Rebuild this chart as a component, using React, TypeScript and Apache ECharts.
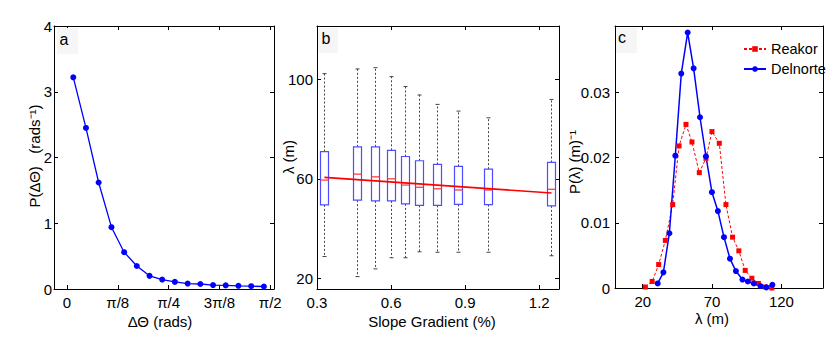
import React, { useEffect, useRef } from "react";
import * as echarts from "echarts";

// ---------- Panel a ----------
const aDeltaTheta = [0.049, 0.147, 0.245, 0.344, 0.442, 0.54, 0.638, 0.736, 0.834, 0.933, 1.031, 1.129, 1.227, 1.325, 1.424, 1.522];
const aProb = [3.22, 2.45, 1.62, 0.94, 0.56, 0.35, 0.2, 0.144, 0.108, 0.083, 0.076, 0.06, 0.055, 0.048, 0.043, 0.038];
const aXTickValues = [0, Math.PI / 8, Math.PI / 4, (3 * Math.PI) / 8, Math.PI / 2];
const aXTickLabels = ["0", "π/8", "π/4", "3π/8", "π/2"];
const aYTicks = [0, 1, 2, 3, 4];

// ---------- Panel b ----------
const bSlope = [0.328, 0.463, 0.534, 0.599, 0.658, 0.715, 0.786, 0.872, 0.992, 1.249];
const bLow = [28.7, 20.6, 23.7, 28.2, 28.2, 30.6, 30.4, 30.4, 30.4, 29.0];
const bQ1 = [49.5, 51.4, 51.1, 51.1, 49.9, 49.3, 49.3, 49.7, 49.6, 49.1];
const bMedian = [59.5, 61.9, 60.8, 60.0, 57.5, 56.6, 56.0, 55.5, 55.5, 55.8];
const bQ3 = [71.0, 72.9, 72.9, 71.5, 69.0, 67.3, 65.8, 65.0, 63.9, 66.6];
const bHigh = [102.4, 104.3, 104.8, 101.2, 97.2, 93.8, 90.0, 87.3, 84.6, 92.0];
const bFitX = [0.33, 1.25];
const bFitY = [60.6, 54.3];
const bXTicks = [0.3, 0.6, 0.9, 1.2];
const bYTicks = [20, 60, 100];

// ---------- Panel c ----------
const cReakorX = [21.9, 26.8, 31.5, 36.3, 41.6, 46.2, 51.2, 55.5, 60.8, 65.6, 69.9, 75.2, 80.0, 84.8, 89.3, 93.9, 98.7, 103.4, 108.3, 113.1];
const cReakorY = [0.00015, 0.001, 0.0036, 0.0073, 0.0128, 0.0218, 0.0251, 0.0224, 0.0177, 0.0199, 0.024, 0.0222, 0.0128, 0.0078, 0.0057, 0.0027, 0.0015, 0.0007, 0.00015, 0.0];
const cDelnorteX = [30.8, 34.9, 39.2, 43.5, 47.8, 52.4, 56.7, 61.3, 65.6, 69.9, 74.2, 78.6, 82.9, 87.2, 91.9, 95.8, 100.1, 104.9, 109.2, 113.5];
const cDelnorteY = [0.0007, 0.0024, 0.0084, 0.0203, 0.0329, 0.0392, 0.0337, 0.0262, 0.0202, 0.0147, 0.0118, 0.0078, 0.0045, 0.0026, 0.0013, 0.001, 0.0007, 0.0003, 0.0001, 0.0005];
const cXTicks = [20, 70, 120];
const cYTicks = [0, 0.01, 0.02, 0.03];
const cSeriesNames = ["Reakor", "Delnorte"];

const FONT = "'Liberation Sans', Arial, sans-serif";

function axis(
  gridIndex: number,
  position: string,
  min: number,
  max: number,
  ticks: number[],
  showLabel: boolean,
  margin: number,
  formatter?: (v: number) => string
) {
  return {
    type: "value",
    gridIndex,
    position,
    min,
    max,
    axisLine: { show: true, onZero: false, lineStyle: { color: "#000", width: 1 } },
    axisTick: { show: true, inside: true, length: 4, customValues: ticks, lineStyle: { color: "#000" } },
    axisLabel: {
      show: showLabel,
      customValues: ticks,
      margin,
      fontSize: 15,
      fontFamily: FONT,
      color: "#000",
      formatter: formatter || ((v: number) => String(v)),
    },
    splitLine: { show: false },
  };
}

function txt(text: string, x: number, y: number, rotation = 0, size = 15) {
  return {
    type: "text",
    x,
    y,
    rotation,
    z: 10,
    style: {
      text,
      font: `${size}px ${FONT}`,
      fill: "#000",
      align: "center",
      verticalAlign: "middle",
      textAlign: "center",
      textVerticalAlign: "middle",
    },
  };
}

function bgRect(x: number, y: number, w: number, h: number) {
  return { type: "rect", shape: { x, y, width: w, height: h }, style: { fill: "#f6f6f6" }, z: 1 };
}

export default function App() {
  const ref = useRef<HTMLDivElement>(null);

  useEffect(() => {
    if (!ref.current) return;
    const chart = echarts.init(ref.current, null, { renderer: "svg" });

    const aFormatter = (v: number) => {
      const i = aXTickValues.findIndex((t) => Math.abs(t - v) < 1e-6);
      return i >= 0 ? aXTickLabels[i] : "";
    };

    const boxData = bSlope.map((s, i) => [s, bLow[i], bQ1[i], bMedian[i], bQ3[i], bHigh[i]]);

    const option: any = {
      animation: false,
      backgroundColor: "#fff",
      grid: [
        { left: 54, top: 26, width: 220, height: 263, containLabel: false, outerBoundsMode: "none" },
        { left: 317, top: 26, width: 242, height: 263, containLabel: false, outerBoundsMode: "none" },
        { left: 615, top: 26, width: 208, height: 262, containLabel: false, outerBoundsMode: "none" },
      ],
      xAxis: [
        axis(0, "bottom", -0.1, 1.6, aXTickValues, true, 6, aFormatter),
        axis(1, "bottom", 0.3, 1.28, bXTicks, true, 6, (v) => v.toFixed(1)),
        axis(2, "bottom", 0, 150, cXTicks, true, 6),
        axis(0, "top", -0.1, 1.6, aXTickValues, false, 6),
        axis(1, "top", 0.3, 1.28, bXTicks, false, 6),
        axis(2, "top", 0, 150, cXTicks, false, 6),
      ],
      yAxis: [
        axis(0, "left", 0, 4, aYTicks, true, 2),
        axis(1, "left", 15.6, 121.6, bYTicks, true, 4),
        axis(2, "left", 0, 0.0402, cYTicks, true, 5, (v) => (v === 0 ? "0" : v.toFixed(2))),
        axis(0, "right", 0, 4, aYTicks, false, 2),
        axis(1, "right", 15.6, 121.6, bYTicks, false, 4),
        axis(2, "right", 0, 0.0402, cYTicks, false, 5),
      ],
      legend: {
        data: cSeriesNames,
        orient: "vertical",
        left: 738,
        top: 36,
        itemWidth: 22,
        itemHeight: 7,
        itemGap: 4,
        textStyle: { fontSize: 14.5, fontFamily: FONT, color: "#000", lineHeight: 16 },
      },
      series: [
        {
          type: "line",
          xAxisIndex: 0,
          yAxisIndex: 0,
          data: aDeltaTheta.map((x, i) => [x, aProb[i]]),
          symbol: "circle",
          symbolSize: 6,
          lineStyle: { color: "#0000ff", width: 1.3 },
          itemStyle: { color: "#0000ff" },
        },
        {
          type: "custom",
          xAxisIndex: 1,
          yAxisIndex: 1,
          data: boxData,
          renderItem: (params: any, api: any) => {
            const x = api.value(0);
            const pLow = api.coord([x, api.value(1)]);
            const pQ1 = api.coord([x, api.value(2)]);
            const pMed = api.coord([x, api.value(3)]);
            const pQ3 = api.coord([x, api.value(4)]);
            const pHigh = api.coord([x, api.value(5)]);
            const cx = Math.round(pLow[0]) + 0.5;
            const hw = 4;
            const dash = { stroke: "#444", lineWidth: 1, lineDash: [2, 2] };
            const solid = { stroke: "#444", lineWidth: 1 };
            return {
              type: "group",
              children: [
                { type: "line", shape: { x1: cx, y1: pQ3[1], x2: cx, y2: pHigh[1] }, style: dash },
                { type: "line", shape: { x1: cx, y1: pQ1[1], x2: cx, y2: pLow[1] }, style: dash },
                { type: "line", shape: { x1: cx - 2, y1: pHigh[1], x2: cx + 2, y2: pHigh[1] }, style: solid },
                { type: "line", shape: { x1: cx - 2, y1: pLow[1], x2: cx + 2, y2: pLow[1] }, style: solid },
                {
                  type: "rect",
                  shape: { x: cx - hw, y: pQ3[1], width: hw * 2, height: pQ1[1] - pQ3[1] },
                  style: { fill: "#fff", stroke: "#4d4dff", lineWidth: 1.2 },
                },
                {
                  type: "line",
                  shape: { x1: cx - hw, y1: pMed[1], x2: cx + hw, y2: pMed[1] },
                  style: { stroke: "#ff3030", lineWidth: 1.2 },
                },
              ],
            };
          },
        },
        {
          type: "line",
          xAxisIndex: 1,
          yAxisIndex: 1,
          data: bFitX.map((x, i) => [x, bFitY[i]]),
          symbol: "none",
          lineStyle: { color: "#ff0000", width: 1.6 },
          z: 5,
        },
        {
          name: cSeriesNames[0],
          type: "line",
          xAxisIndex: 2,
          yAxisIndex: 2,
          data: cReakorX.map((x, i) => [x, cReakorY[i]]),
          symbol: "rect",
          symbolSize: 5,
          lineStyle: { color: "#ff0000", width: 1, type: [3, 2] },
          itemStyle: { color: "#ff0000" },
        },
        {
          name: cSeriesNames[1],
          type: "line",
          xAxisIndex: 2,
          yAxisIndex: 2,
          data: cDelnorteX.map((x, i) => [x, cDelnorteY[i]]),
          symbol: "circle",
          symbolSize: 6,
          lineStyle: { color: "#0000ff", width: 1.5 },
          itemStyle: { color: "#0000ff" },
        },
      ],
      graphic: [
        bgRect(57, 28, 21, 26),
        bgRect(318, 28, 20, 25),
        bgRect(616, 28, 21, 25),
        txt("a", 64, 39, 0, 16),
        txt("b", 326, 38, 0, 16),
        txt("c", 622, 37, 0, 16),
        txt("ΔΘ (rads)", 160, 321),
        txt("Slope Gradient (%)", 432, 321),
        txt("λ (m)", 712, 318),
        txt("P(ΔΘ)   (rads⁻¹)", 34, 156, Math.PI / 2),
        txt("λ (m)", 288, 157, Math.PI / 2),
        txt("P(λ) (m)⁻¹", 574, 162, Math.PI / 2),
      ],
    };

    chart.setOption(option);
    return () => chart.dispose();
  }, []);

  return (
    <div
      ref={ref}
      style={{ position: "absolute", left: 0, top: 0, width: 830, height: 337, background: "#fff" }}
    />
  );
}
